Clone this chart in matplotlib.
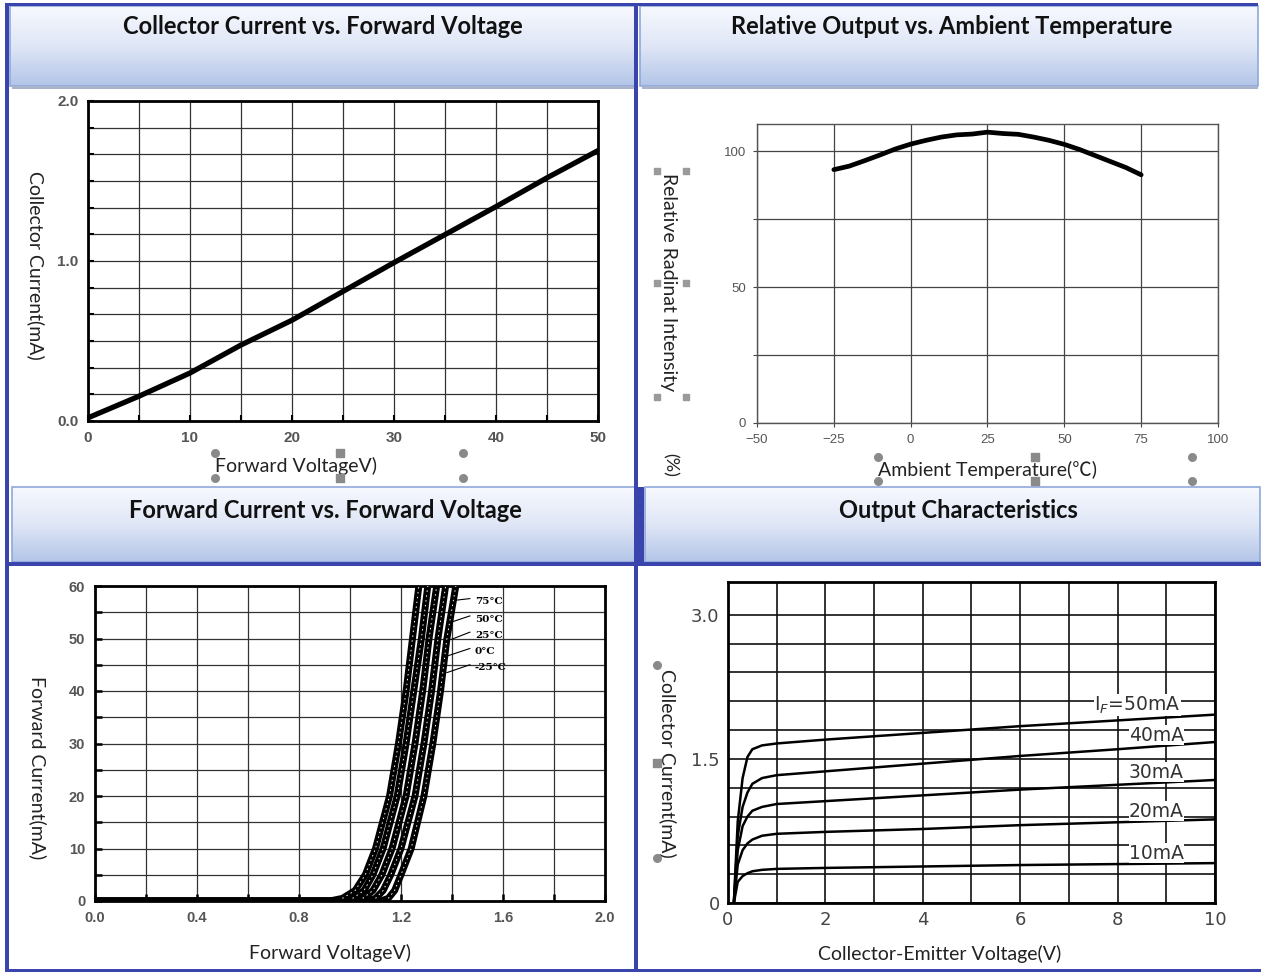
import numpy as np
import matplotlib
matplotlib.use("Agg")
import matplotlib.pyplot as plt
from matplotlib.colors import LinearSegmentedColormap
from matplotlib.patches import Rectangle

# ---------------- data ----------------
# Panel 1: Collector current vs forward voltage
p1_voltage = [0, 5, 10, 15, 20, 25, 30, 35, 40, 45, 50]
p1_current = [0.02, 0.155, 0.30, 0.475, 0.63, 0.81, 0.99, 1.165, 1.34, 1.52, 1.69]

# Panel 2: Relative output vs ambient temperature
p2_temp = [-25, -20, -15, -10, -5, 0, 5, 10, 15, 20, 25, 30, 35, 40, 45, 50, 55, 60, 65, 70, 75]
p2_rel = [93.2, 94.5, 96.5, 98.6, 100.8, 102.6, 104.0, 105.2, 106.0, 106.3, 107.0,
          106.5, 106.2, 105.2, 104.0, 102.5, 100.6, 98.4, 96.2, 94.0, 91.3]

# Panel 3: Forward current vs forward voltage (per temperature)
p3_current = [0, 0, 0.5, 2, 5, 10, 20, 30, 40, 50, 60]
p3_labels = ["75°C", "50°C", "25°C", "0°C", "-25°C"]
p3_v_75 = [0.0, 0.92, 0.97, 1.02, 1.06, 1.10, 1.155, 1.19, 1.22, 1.245, 1.27]
p3_v_50 = [0.0, 0.96, 1.01, 1.055, 1.09, 1.13, 1.185, 1.22, 1.25, 1.28, 1.305]
p3_v_25 = [0.0, 1.01, 1.05, 1.09, 1.125, 1.165, 1.22, 1.255, 1.285, 1.31, 1.34]
p3_v_0 = [0.0, 1.06, 1.10, 1.13, 1.16, 1.20, 1.255, 1.29, 1.32, 1.345, 1.375]
p3_v_m25 = [0.0, 1.12, 1.15, 1.175, 1.20, 1.24, 1.29, 1.325, 1.355, 1.38, 1.415]

# Panel 4: Output characteristics
p4_vce = [0.12, 0.2, 0.3, 0.4, 0.5, 0.7, 1.0, 2, 4, 6, 8, 10]
p4_labels = ["I$_F$=50mA", "40mA", "30mA", "20mA", "10mA"]
p4_ic_50 = [0, 0.85, 1.30, 1.52, 1.60, 1.64, 1.66, 1.70, 1.77, 1.84, 1.90, 1.96]
p4_ic_40 = [0, 0.70, 1.00, 1.15, 1.24, 1.30, 1.33, 1.37, 1.45, 1.53, 1.60, 1.675]
p4_ic_30 = [0, 0.55, 0.80, 0.90, 0.96, 1.00, 1.03, 1.06, 1.12, 1.18, 1.23, 1.28]
p4_ic_20 = [0, 0.40, 0.55, 0.62, 0.66, 0.70, 0.72, 0.74, 0.77, 0.81, 0.84, 0.87]
p4_ic_10 = [0, 0.22, 0.28, 0.31, 0.33, 0.345, 0.355, 0.365, 0.38, 0.395, 0.405, 0.415]

titles = ["Collector Current vs. Forward Voltage",
          "Relative Output vs. Ambient Temperature",
          "Forward Current vs. Forward Voltage",
          "Output Characteristics"]

# ---------------- layout helpers ----------------
W, H = 1261, 973
fig = plt.figure(figsize=(W / 100, H / 100), dpi=100)
fig.patch.set_facecolor("white")

LABEL_FONT = ["Lato", "Noto Sans CJK SC", "DejaVu Sans"]
TICK_FONT = ["Liberation Sans", "DejaVu Sans"]
DARK_BLUE = "#3a44ad"


def ax_px(x0, y0, x1, y1):
    return fig.add_axes([x0 / W, 1 - y1 / H, (x1 - x0) / W, (y1 - y0) / H])


def ftext(x, y, s, **kw):
    return fig.text(x / W, 1 - y / H, s, **kw)


# background frame
bg = fig.add_axes([0, 0, 1, 1], zorder=-5)
bg.set_xlim(0, W)
bg.set_ylim(H, 0)
bg.axis("off")
cmap = LinearSegmentedColormap.from_list("hdr", ["#f7f9fe", "#dfe6f6", "#b3c5e8"])
grad = np.linspace(0, 1, 200).reshape(-1, 1)
headers = [(10, 6, 635, 86), (640, 6, 1258, 86), (12, 487, 635, 562), (645, 487, 1260, 562)]
for (x0, y0, x1, y1) in headers:
    bg.imshow(grad, extent=[x0, x1, y1, y0], aspect="auto", cmap=cmap, zorder=1)
    bg.add_patch(Rectangle((x0, y0), x1 - x0, y1 - y0, fill=False,
                           edgecolor="#8fa9dc", lw=1.2, zorder=2))
# shadow under top headers
bg.add_patch(Rectangle((12, 86), 623, 3, color="#a9b3cc", zorder=2, lw=0))
bg.add_patch(Rectangle((642, 86), 616, 3, color="#a9b3cc", zorder=2, lw=0))
# dark blue frame lines
bg.add_patch(Rectangle((5, 3), 1253, 3, color=DARK_BLUE, zorder=3, lw=0))
bg.add_patch(Rectangle((5, 3), 4, 969, color=DARK_BLUE, zorder=3, lw=0))
bg.add_patch(Rectangle((634, 3), 4, 969, color=DARK_BLUE, zorder=3, lw=0))
bg.add_patch(Rectangle((634, 487), 10, 77, color=DARK_BLUE, zorder=3, lw=0))
bg.add_patch(Rectangle((5, 562), 1256, 4, color=DARK_BLUE, zorder=3, lw=0))
bg.add_patch(Rectangle((5, 969), 1256, 3, color=DARK_BLUE, zorder=3, lw=0))
bg.set_xlim(0, W)
bg.set_ylim(H, 0)

# titles
title_pos = [(323, 27), (952, 27), (325, 510), (958, 511)]
for t, (x, y) in zip(titles, title_pos):
    ftext(x, y, t, ha="center", va="center", fontsize=17, fontweight="bold",
          family=LABEL_FONT, color="#111111")


def style_ticks(ax, size=9, color="#555555", weight="bold", family=None):
    for lab in ax.get_xticklabels() + ax.get_yticklabels():
        lab.set_fontfamily(family or TICK_FONT)
        lab.set_fontsize(size)
        lab.set_color(color)
        lab.set_fontweight(weight)


LBL = dict(fontsize=14, family=LABEL_FONT, color="#222222", ha="center", va="center")

# ---------------- Panel 1 ----------------
ax1 = ax_px(88, 101, 598, 421)
ax1.plot(p1_voltage, p1_current, color="black", lw=3.8, solid_capstyle="round", zorder=3)
ax1.set_xlim(0, 50)
ax1.set_ylim(0, 2.0)
ax1.set_xticks(np.arange(0, 51, 5))
ax1.set_xticklabels([str(v) if v % 10 == 0 else "" for v in range(0, 51, 5)])
ax1.set_yticks(np.linspace(0, 2, 13))
ax1.set_yticklabels(["0.0"] + [""] * 5 + ["1.0"] + [""] * 5 + ["2.0"])
ax1.grid(True, color="#333333", lw=0.9)
ax1.tick_params(direction="in", length=4, width=1.5, pad=7)
for s in ax1.spines.values():
    s.set_linewidth(2.0)
style_ticks(ax1, size=11)
ftext(36, 265, "Collector Current(mA)", rotation=270, **LBL)
ftext(296, 466, "Forward VoltageV)", **LBL)

# ---------------- Panel 2 ----------------
ax2 = ax_px(757, 124, 1218, 423)
ax2.plot(p2_temp, p2_rel, color="black", lw=3.4, solid_capstyle="round", zorder=3)
ax2.set_xlim(-50, 100)
ax2.set_ylim(0, 110)
ax2.set_xticks(np.arange(-50, 101, 25))
ax2.set_yticks([0, 25, 50, 75, 100])
ax2.set_yticklabels(["0", "", "50", "", "100"])
ax2.grid(True, color="#444444", lw=0.9)
ax2.tick_params(direction="out", length=3, width=0.8, pad=5, color="#444444")
for s in ax2.spines.values():
    s.set_linewidth(1.0)
    s.set_color("#555555")
style_ticks(ax2, size=9.5, color="#555555", weight="normal")
ftext(668, 282, "Relative Radinat Intensity", rotation=270, **LBL)
ftext(670, 465, "(%)", rotation=270, ha="center", va="center",
      fontsize=13, family=LABEL_FONT, color="#222222")
ftext(988, 470, "Ambient Temperature(℃)", **LBL)

# ---------------- Panel 3 ----------------
ax3 = ax_px(95, 586, 605, 901)
p3_series = [p3_v_75, p3_v_50, p3_v_25, p3_v_0, p3_v_m25]
for v in p3_series:
    ax3.plot(v, p3_current, color="black", lw=5.0, zorder=3, solid_joinstyle="round")
for v in p3_series:
    ax3.plot(v[2:], p3_current[2:], color="white", lw=0.7, zorder=4, dashes=(1.5, 3.5))
ax3.set_xlim(0, 2.0)
ax3.set_ylim(0, 60)
ax3.set_xticks(np.arange(0, 2.01, 0.2))
ax3.set_xticklabels(["0.0", "", "0.4", "", "0.8", "", "1.2", "", "1.6", "", "2.0"])
ax3.set_yticks(np.arange(0, 61, 5))
ax3.set_yticklabels([str(v) if v % 10 == 0 else "" for v in range(0, 61, 5)])
ax3.grid(True, color="#333333", lw=0.9)
ax3.tick_params(direction="in", length=5, width=1.8, pad=7)
for s in ax3.spines.values():
    s.set_linewidth(2.0)
style_ticks(ax3, size=10.5)
# curve labels with leader lines
p3_label_y = [57.0, 53.7, 50.6, 47.5, 44.4]
p3_leader = [(1.416, 57.3), (1.396, 53.1), (1.396, 49.8), (1.365, 46.4), (1.38, 43.5)]
for lab, ly, (lx, lyy) in zip(p3_labels, p3_label_y, p3_leader):
    ax3.plot([lx, 1.47], [lyy, ly + 0.6], color="black", lw=0.8, zorder=5)
    ax3.text(1.49, ly, lab, fontsize=7.5, family=["DejaVu Serif"], fontweight="bold",
             va="center", ha="left", zorder=6)
ftext(38, 768, "Forward Current(mA)", rotation=270, **LBL)
ftext(330, 953, "Forward VoltageV)", **LBL)

# ---------------- Panel 4 ----------------
ax4 = ax_px(728, 582, 1215, 903)
p4_series = [p4_ic_50, p4_ic_40, p4_ic_30, p4_ic_20, p4_ic_10]
for ic in p4_series:
    ax4.plot(p4_vce, ic, color="black", lw=1.8, zorder=3)
ax4.set_xlim(0, 10)
ax4.set_ylim(0, 3.34)
ax4.set_xticks(np.arange(0, 11, 1))
ax4.set_xticklabels([str(v) if v % 2 == 0 else "" for v in range(0, 11)])
ax4.set_yticks(np.arange(0, 3.01, 0.3))
ax4.set_yticklabels(["0", "", "", "", "", "1.5", "", "", "", "", "3.0"])
ax4.grid(True, color="#111111", lw=1.2)
ax4.tick_params(direction="in", length=0, pad=6)
for s in ax4.spines.values():
    s.set_linewidth(2.0)
style_ticks(ax4, size=13, color="#444444", weight="normal",
            family=["DejaVu Sans"])
p4_label_xy = [(8.4, 2.06), (8.8, 1.745), (8.8, 1.36), (8.8, 0.955), (8.8, 0.52)]
for lab, (lx, ly) in zip(p4_labels, p4_label_xy):
    ax4.text(lx, ly, lab, fontsize=13.5, family=["DejaVu Sans"], color="#333333",
             ha="center", va="center", zorder=6,
             bbox=dict(facecolor="white", edgecolor="none", pad=0.3))
ftext(668, 763, "Collector Current(mA)", rotation=270, **LBL)
ftext(940, 954, "Collector-Emitter Voltage(V)", **LBL)

# ---------------- selection handles (overlay) ----------------
ov = fig.add_axes([0, 0, 1, 1], zorder=20)
ov.set_xlim(0, W)
ov.set_ylim(H, 0)
ov.axis("off")
ov.patch.set_alpha(0)
h_circ_x = [215, 463, 215, 463, 878, 1192, 878, 1192, 657, 657]
h_circ_y = [453, 453, 478, 478, 457, 457, 481, 481, 665, 858]
h_sq_x = [340, 340, 1035, 1035, 657]
h_sq_y = [453, 478, 457, 481, 763]
ov.scatter(h_circ_x, h_circ_y, s=30, marker="o", color="#8a8a8a", zorder=5)
ov.scatter(h_sq_x, h_sq_y, s=30, marker="s", color="#8a8a8a", zorder=5)
br_x = [657, 686, 657, 686, 657, 686]
br_y = [171, 171, 283, 283, 397, 397]
ov.scatter(br_x, br_y, s=14, marker="s", color="#9a9a9a", zorder=5)

fig.savefig("out.png", dpi=100)
